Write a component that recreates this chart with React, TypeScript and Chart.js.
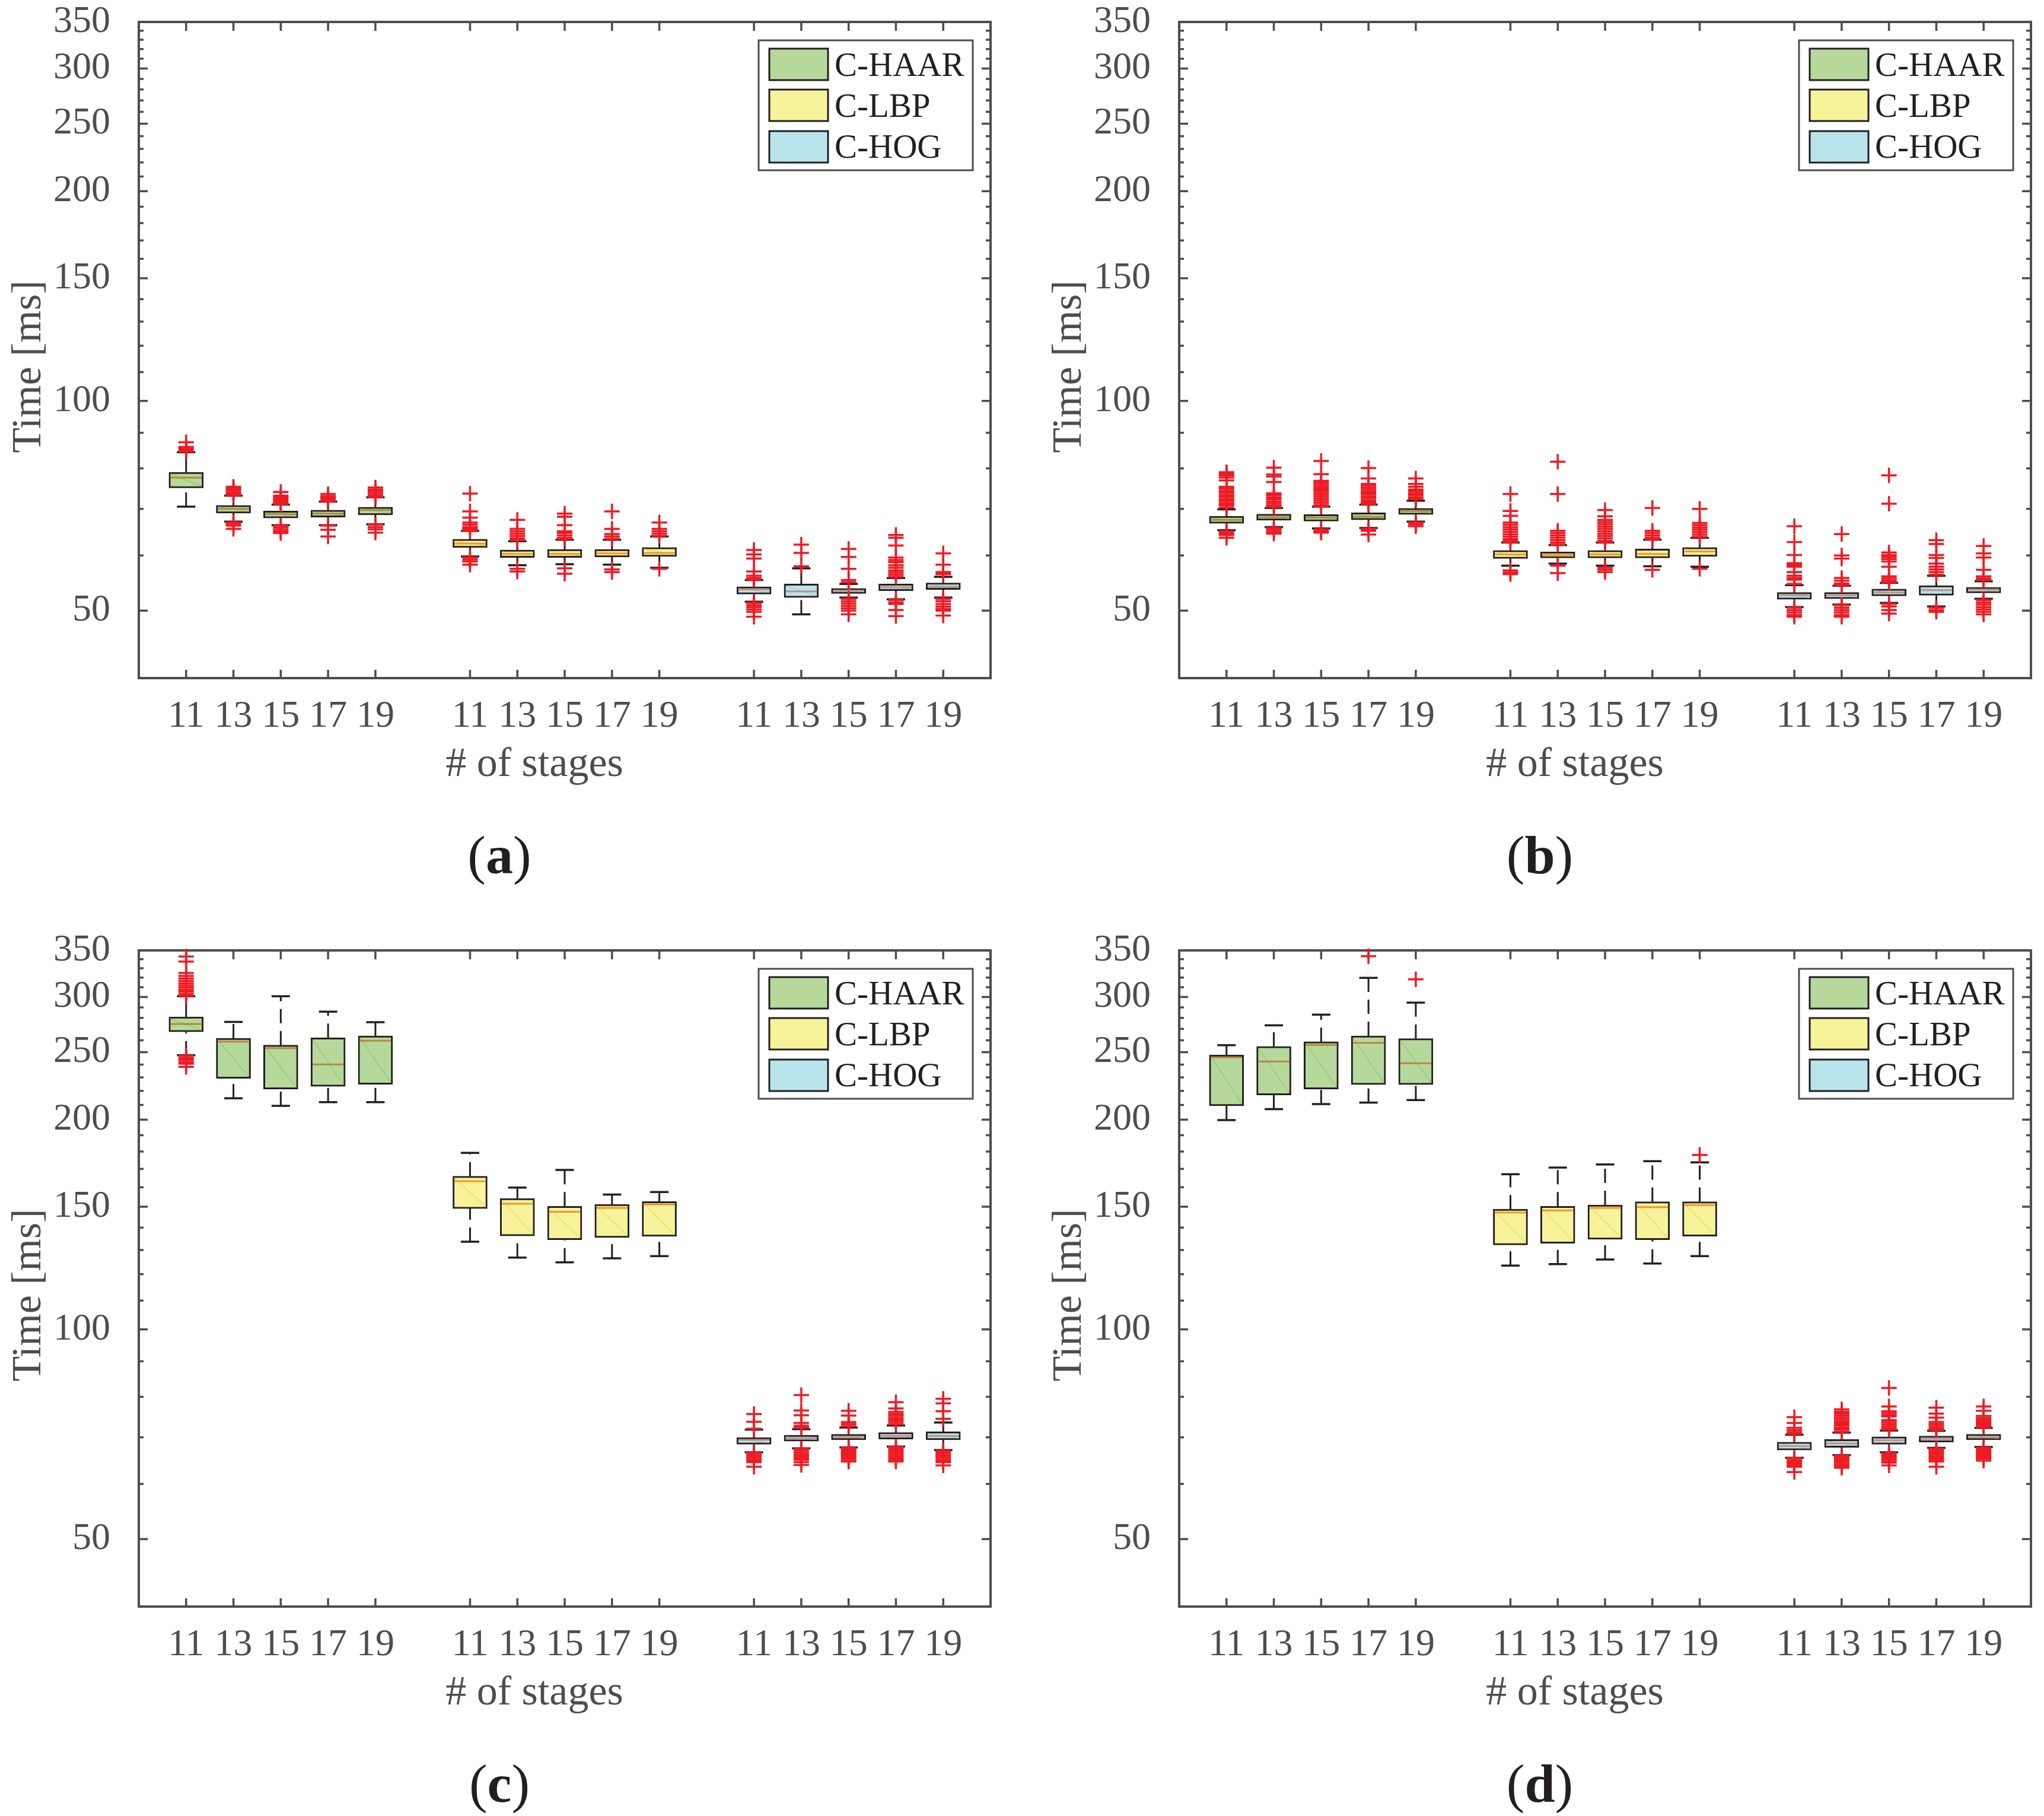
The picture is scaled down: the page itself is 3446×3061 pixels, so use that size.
import React, { useEffect, useRef } from 'react';
import { Chart, registerables } from 'chart.js';

Chart.register(...registerables);

// ---------------- data ----------------
const POSITIONS = [1, 2, 3, 4, 5, 7, 8, 9, 10, 11, 13, 14, 15, 16, 17];
const STAGE_LABELS = ['11', '13', '15', '17', '19'];
const SERIES = ['C-HAAR', 'C-LBP', 'C-HOG'];
const Y_MAJOR = [50, 100, 150, 200, 250, 300, 350];
const Y_MINOR = [60, 70, 80, 90, 110, 120, 130, 140, 160, 170, 180, 190, 210, 220, 230, 240, 260, 270, 280, 290, 310, 320, 330, 340];

// panel (a)
const A_LOW = [70.5, 67.1, 66.3, 66.3, 66.5, 59.8, 58.1, 58.3, 58.2, 57.6, 51.5, 49.4, 52.2, 51.9, 52.2];
const A_Q1 = [75.0, 69.0, 67.9, 68.1, 68.6, 61.6, 59.6, 59.6, 59.7, 59.8, 52.8, 52.2, 52.9, 53.4, 53.6];
const A_MED = [77.6, 70.0, 68.8, 68.9, 69.7, 62.4, 60.3, 60.3, 60.4, 60.5, 53.6, 53.3, 53.4, 54.0, 54.1];
const A_Q3 = [79.0, 70.8, 69.5, 69.7, 70.4, 63.3, 61.1, 61.2, 61.2, 61.6, 54.1, 54.6, 53.8, 54.6, 54.8];
const A_HIGH = [84.4, 73.1, 71.0, 71.7, 72.7, 65.1, 62.9, 63.2, 63.2, 63.9, 55.3, 57.5, 54.6, 55.7, 55.9];
const A_OUT = [
  [87.2, 85.9, 85.4, 84.9, 84.6],
  [75.3, 74.8, 74.4, 73.9, 73.5, 73.2, 66.9, 66.6, 66.2, 65.5],
  [74.0, 73.1, 72.7, 72.3, 71.9, 71.5, 71.1, 66.2, 65.8, 65.3, 64.9, 64.6],
  [73.5, 73.0, 72.6, 72.2, 71.8, 66.2, 65.3, 63.9],
  [75.1, 74.6, 74.1, 73.6, 73.1, 72.8, 66.4, 65.9, 65.4, 64.7],
  [73.6, 69.4, 68.0, 66.9, 66.4, 65.9, 65.5, 65.1, 59.6, 59.2, 58.8, 58.2],
  [67.5, 65.5, 65.0, 64.5, 64.0, 63.5, 63.1, 57.4, 56.9],
  [68.9, 68.2, 66.3, 65.0, 64.6, 64.1, 63.6, 63.4, 57.5, 56.5],
  [69.4, 65.5, 64.4, 63.9, 63.4, 57.3, 56.8],
  [66.9, 65.5, 65.0, 64.5, 64.0, 57.4],
  [61.1, 60.2, 59.4, 56.9, 56.1, 55.7, 55.4, 51.3, 50.9, 50.6, 50.2, 49.8, 49.0],
  [62.2, 60.5, 57.9],
  [61.3, 59.7, 57.4, 55.3, 54.9, 52.0, 51.6, 51.2, 50.8, 50.4, 50.0, 49.4],
  [64.2, 63.6, 62.0, 59.6, 59.1, 58.7, 58.1, 57.6, 57.1, 56.7, 56.3, 55.9, 51.8, 51.4, 51.1, 50.1, 49.1],
  [60.4, 58.2, 56.8, 56.4, 52.0, 51.6, 51.1, 50.7, 50.3, 50.0, 49.2],
];

// panel (b)
const B_LOW = [65.2, 65.9, 65.6, 65.7, 67.1, 58.0, 58.4, 58.0, 57.9, 57.8, 50.6, 51.0, 51.3, 50.7, 52.0];
const B_Q1 = [66.7, 67.4, 67.2, 67.5, 68.7, 59.4, 59.5, 59.5, 59.5, 59.8, 51.9, 52.0, 52.5, 52.6, 53.0];
const B_MED = [67.5, 68.1, 68.0, 68.2, 69.5, 60.2, 60.1, 60.2, 60.3, 60.8, 52.6, 52.6, 53.1, 53.5, 53.6];
const B_Q3 = [68.3, 68.8, 68.7, 69.1, 70.1, 61.0, 60.7, 61.0, 61.3, 61.6, 53.1, 53.1, 53.7, 54.3, 54.0];
const B_HIGH = [69.9, 70.2, 70.5, 71.0, 71.9, 62.6, 62.1, 62.6, 63.2, 63.6, 54.4, 54.3, 54.8, 56.1, 55.1];
const B_OUT = [
  [79.0, 78.6, 78.2, 77.6, 76.9, 75.3, 74.8, 74.3, 73.8, 73.3, 72.8, 72.3, 71.8, 71.3, 70.8, 70.3, 65.0, 64.6, 64.2, 63.6],
  [80.2, 78.4, 77.9, 76.5, 73.7, 73.2, 72.7, 72.2, 71.7, 71.2, 70.7, 70.4, 65.7, 65.3, 64.9, 64.5],
  [82.0, 78.5, 76.8, 76.3, 75.8, 75.3, 74.8, 74.4, 73.9, 73.4, 72.9, 72.4, 71.9, 71.4, 70.9, 70.6, 65.4, 65.0, 64.7],
  [80.1, 77.4, 76.0, 75.5, 75.0, 74.5, 74.0, 73.5, 73.0, 72.5, 72.0, 71.5, 71.1, 65.5, 65.1, 64.3],
  [77.4, 76.0, 75.3, 74.6, 74.2, 73.7, 73.2, 72.7, 72.3, 66.9, 66.5, 66.1],
  [73.5, 69.5, 68.4, 66.9, 66.4, 65.9, 65.4, 64.9, 64.4, 63.9, 63.4, 63.0, 62.7, 57.1, 56.7, 56.4],
  [81.8, 73.5, 65.1, 64.6, 64.1, 63.6, 63.1, 62.6, 62.2, 58.0, 56.6],
  [69.7, 68.3, 67.5, 67.0, 66.5, 66.0, 65.5, 65.0, 64.5, 64.0, 63.5, 63.0, 62.7, 57.6, 57.2, 56.8],
  [70.2, 65.1, 64.6, 64.1, 63.6, 63.3, 57.2],
  [70.0, 66.8, 66.3, 65.8, 65.3, 64.8, 64.3, 63.8, 57.4],
  [66.1, 62.7, 60.1, 58.5, 58.1, 57.8, 56.8, 56.1, 55.7, 55.4, 54.6, 50.5, 50.1, 49.7, 49.3, 49.0],
  [64.4, 60.0, 59.4, 55.7, 55.2, 54.7, 54.4, 50.9, 50.5, 50.1, 49.7, 49.3, 49.0],
  [78.2, 71.2, 60.6, 60.1, 59.7, 59.3, 58.8, 57.8, 56.0, 55.6, 55.2, 54.9, 51.1, 50.7, 50.1, 49.5],
  [63.1, 62.3, 60.1, 59.5, 58.4, 57.8, 57.3, 56.8, 56.3, 50.5, 50.1, 49.8],
  [61.9, 60.4, 59.6, 57.2, 56.0, 55.6, 55.3, 51.8, 51.4, 51.0, 50.6, 50.2, 49.8, 49.4],
];

// panel (c)
const C_LOW = [247.5, 214.7, 209.4, 212.0, 212.0, 133.6, 126.8, 124.8, 126.5, 127.4, 66.6, 67.5, 67.7, 67.9, 67.1];
const C_Q1 = [267.4, 229.3, 221.3, 223.3, 224.8, 149.1, 136.2, 134.5, 135.5, 136.0, 68.4, 69.1, 69.4, 69.6, 69.4];
const C_MED = [274.5, 258.9, 253.4, 240.1, 259.7, 163.2, 151.5, 147.5, 149.4, 151.1, 69.4, 69.8, 70.1, 70.3, 70.3];
const C_Q3 = [281.0, 261.8, 255.9, 262.2, 263.9, 165.9, 154.2, 150.2, 151.2, 152.6, 69.9, 70.5, 70.7, 71.1, 71.3];
const C_HIGH = [300.8, 276.3, 300.8, 285.8, 276.1, 179.2, 159.8, 169.4, 156.2, 157.5, 71.8, 71.9, 72.3, 72.8, 73.5];
const C_OUT = [
  [343.0, 337.4, 324.9, 321.7, 319.0, 316.5, 314.0, 311.8, 309.6, 307.4, 305.2, 303.0, 301.2, 247.0, 245.3, 243.6, 242.0, 240.6, 238.2],
  [], [], [], [],
  [], [], [], [], [],
  [75.6, 73.7, 72.0, 66.5, 66.1, 65.7, 65.3, 64.9, 64.5, 63.5],
  [80.5, 76.5, 75.3, 73.4, 72.7, 72.2, 67.4, 67.0, 66.5, 66.1, 65.7, 65.3, 65.0, 64.5, 63.9],
  [76.4, 75.2, 73.6, 73.1, 72.6, 67.6, 67.2, 66.8, 66.4, 66.0, 65.6, 65.2, 64.8, 64.6],
  [78.6, 77.0, 76.1, 75.6, 75.1, 74.6, 74.1, 73.6, 73.1, 67.8, 67.4, 67.0, 66.6, 66.2, 65.8, 65.4, 65.0, 64.6],
  [79.5, 78.3, 76.3, 74.4, 66.9, 66.5, 66.1, 65.7, 65.3, 64.9, 64.5, 63.8],
];

// panel (d)
const D_LOW = [199.7, 207.1, 210.6, 211.6, 213.4, 123.5, 124.1, 126.0, 124.3, 127.4, 65.4, 66.0, 66.6, 67.6, 67.8];
const D_Q1 = [209.4, 217.0, 221.3, 224.6, 224.6, 132.2, 132.9, 134.7, 134.5, 136.1, 67.1, 67.7, 68.4, 68.9, 69.4];
const D_MED = [245.8, 242.4, 256.1, 257.9, 241.0, 147.2, 148.2, 149.4, 149.8, 150.8, 68.0, 68.6, 69.3, 69.6, 70.0];
const D_Q3 = [247.7, 254.8, 258.8, 263.9, 261.5, 148.8, 150.2, 150.9, 152.5, 152.5, 68.9, 69.5, 70.1, 70.3, 70.7];
const D_HIGH = [255.8, 273.2, 283.1, 319.6, 294.5, 167.0, 170.7, 172.5, 174.4, 173.7, 70.6, 71.1, 71.6, 71.5, 72.2];
const D_OUT = [
  [], [], [], [343.4], [318.1],
  [], [], [], [], [178.0],
  [74.8, 73.4, 72.2, 71.7, 71.2, 70.8, 65.3, 64.9, 64.5, 64.1, 63.8, 63.5, 62.4],
  [76.8, 76.2, 75.7, 75.2, 74.7, 74.2, 73.7, 73.2, 72.8, 72.3, 71.8, 71.3, 65.9, 65.5, 65.1, 64.7, 64.3, 63.9, 63.6, 63.3],
  [82.4, 77.5, 76.3, 75.8, 75.3, 75.0, 74.1, 73.6, 73.1, 72.6, 72.1, 71.8, 66.4, 66.0, 65.6, 65.2, 64.8, 64.4, 63.8],
  [77.2, 75.7, 74.7, 73.6, 73.1, 72.6, 72.1, 71.7, 67.4, 67.0, 66.6, 66.2, 65.8, 65.4, 65.0, 64.6, 63.5],
  [77.5, 76.4, 75.1, 74.6, 74.1, 73.7, 73.3, 72.8, 72.4, 67.6, 67.2, 66.8, 66.4, 66.0, 65.6, 65.2, 64.8],
];

// ---------------- styles ----------------
const FONT = "'Liberation Serif', 'Times New Roman', serif";
const AXIS = '#4d4d4d';
const DARK = '#231f20';
const RED = '#ed1c24';
const FILLS = ['#b6d99b', '#f7f39a', '#b9e4ec'];
const MEDIANS = ['#b5893a', '#f3962b', '#c8907b'];
const DIAGS = ['#8fcc6e', '#efe060', '#96d2dd'];

const PANELS = [
  { key: 'a', left: 0, top: 0, w: 1723, h: 1530, aL: 234, aT: 37, aR: 1670, aB: 1143, cap: [842, 1441],
    low: A_LOW, q1: A_Q1, med: A_MED, q3: A_Q3, high: A_HIGH, out: A_OUT },
  { key: 'b', left: 1723, top: 0, w: 1723, h: 1530, aL: 265, aT: 37, aR: 1701, aB: 1143, cap: [2596, 1441],
    low: B_LOW, q1: B_Q1, med: B_MED, q3: B_Q3, high: B_HIGH, out: B_OUT },
  { key: 'c', left: 0, top: 1530, w: 1723, h: 1531, aL: 234, aT: 72, aR: 1670, aB: 1178, cap: [842, 3006],
    low: C_LOW, q1: C_Q1, med: C_MED, q3: C_Q3, high: C_HIGH, out: C_OUT },
  { key: 'd', left: 1723, top: 1530, w: 1723, h: 1531, aL: 265, aT: 72, aR: 1701, aB: 1178, cap: [2596, 3006],
    low: D_LOW, q1: D_Q1, med: D_MED, q3: D_Q3, high: D_HIGH, out: D_OUT },
];

function decor(p: any) {
  return {
    id: 'decor',
    beforeDatasetsDraw(chart: any) {
      const { ctx, chartArea: a, scales } = chart;
      const x = scales.x;
      const y = scales.y;
      ctx.save();
      ctx.lineCap = 'butt';
      ctx.strokeStyle = AXIS;
      ctx.lineWidth = 3.5;
      ctx.beginPath();
      for (const v of Y_MAJOR) {
        const py = y.getPixelForValue(v);
        ctx.moveTo(a.left, py); ctx.lineTo(a.left + 15, py);
        ctx.moveTo(a.right, py); ctx.lineTo(a.right - 15, py);
      }
      for (const v of Y_MINOR) {
        const py = y.getPixelForValue(v);
        ctx.moveTo(a.left, py); ctx.lineTo(a.left + 8, py);
        ctx.moveTo(a.right, py); ctx.lineTo(a.right - 8, py);
      }
      for (const pos of POSITIONS) {
        const px = x.getPixelForValue(pos);
        ctx.moveTo(px, a.bottom); ctx.lineTo(px, a.bottom - 14);
        ctx.moveTo(px, a.top); ctx.lineTo(px, a.top + 15);
      }
      ctx.stroke();
      ctx.lineWidth = 4;
      ctx.strokeRect(a.left, a.top, a.right - a.left, a.bottom - a.top);

      // whiskers (dashed) and caps
      ctx.strokeStyle = DARK;
      ctx.lineWidth = 3;
      ctx.setLineDash([24, 13]);
      POSITIONS.forEach((pos, i) => {
        const px = x.getPixelForValue(pos);
        ctx.beginPath();
        ctx.moveTo(px, y.getPixelForValue(p.low[i]));
        ctx.lineTo(px, y.getPixelForValue(p.q1[i]));
        ctx.stroke();
        ctx.beginPath();
        ctx.moveTo(px, y.getPixelForValue(p.q3[i]));
        ctx.lineTo(px, y.getPixelForValue(p.high[i]));
        ctx.stroke();
      });
      ctx.setLineDash([]);
      ctx.lineWidth = 3.5;
      ctx.beginPath();
      POSITIONS.forEach((pos, i) => {
        const px = x.getPixelForValue(pos);
        const pl = y.getPixelForValue(p.low[i]);
        const ph = y.getPixelForValue(p.high[i]);
        ctx.moveTo(px - 15.5, pl); ctx.lineTo(px + 15.5, pl);
        ctx.moveTo(px - 15.5, ph); ctx.lineTo(px + 15.5, ph);
      });
      ctx.stroke();
      ctx.restore();
    },
    afterDatasetDraw(chart: any, args: any) {
      const g = args.index;
      if (g > 2) return;
      const { ctx } = chart;
      const y = chart.scales.y;
      ctx.save();
      args.meta.data.forEach((el: any, j: number) => {
        const i = g * 5 + j;
        const l = el.x - el.width / 2 + 3;
        const r = el.x + el.width / 2 - 3;
        const t = Math.min(el.y, el.base) + 3;
        const b = Math.max(el.y, el.base) - 3;
        ctx.strokeStyle = DIAGS[g];
        ctx.lineWidth = 1.5;
        ctx.beginPath(); ctx.moveTo(l, t); ctx.lineTo(r, b); ctx.stroke();
        const pm = y.getPixelForValue(p.med[i]);
        ctx.strokeStyle = MEDIANS[g];
        ctx.lineWidth = 3;
        ctx.beginPath(); ctx.moveTo(l, pm); ctx.lineTo(r, pm); ctx.stroke();
      });
      ctx.restore();
    },
    afterDraw(chart: any) {
      const { ctx, chartArea: a } = chart;
      ctx.save();
      // axis titles
      ctx.fillStyle = AXIS;
      ctx.font = `70px ${FONT}`;
      ctx.textAlign = 'center';
      ctx.textBaseline = 'alphabetic';
      ctx.fillText('# of stages', a.left + 667, a.bottom + 165);
      ctx.save();
      ctx.translate(a.left - 184, a.top + 581);
      ctx.rotate(-Math.PI / 2);
      ctx.textBaseline = 'middle';
      ctx.fillText('Time [ms]', 0, 0);
      ctx.restore();
      // legend
      const lx = a.right - 391;
      const ly = a.top + 31;
      ctx.fillStyle = '#ffffff';
      ctx.fillRect(lx, ly, 361, 219);
      ctx.strokeStyle = AXIS;
      ctx.lineWidth = 3;
      ctx.strokeRect(lx, ly, 361, 219);
      const rowTop = [45, 114, 184];
      const rowBase = [91, 160, 229];
      ctx.font = `57px ${FONT}`;
      ctx.textAlign = 'left';
      SERIES.forEach((s, k) => {
        ctx.fillStyle = FILLS[k];
        ctx.fillRect(a.right - 373, a.top + rowTop[k], 99, 53);
        ctx.strokeStyle = DARK;
        ctx.lineWidth = 3;
        ctx.strokeRect(a.right - 373, a.top + rowTop[k], 99, 53);
        ctx.fillStyle = DARK;
        ctx.fillText(s, a.right - 263, a.top + rowBase[k]);
      });
      ctx.restore();
    },
  };
}

function buildConfig(p: any) {
  const groups = [0, 1, 2].map((g) => ({
    type: 'bar',
    label: SERIES[g],
    data: [0, 1, 2, 3, 4].map((j) => {
      const i = g * 5 + j;
      return { x: POSITIONS[i], y: [p.q1[i], p.q3[i]] };
    }),
    backgroundColor: FILLS[g],
    borderColor: DARK,
    borderWidth: 3,
    borderSkipped: false,
    barThickness: 58,
    grouped: false,
    order: 1,
  }));
  const outPts: any[] = [];
  p.out.forEach((list: number[], i: number) => {
    list.forEach((v) => outPts.push({ x: POSITIONS[i], y: v }));
  });
  const outliers = {
    type: 'scatter',
    label: 'outliers',
    data: outPts,
    pointStyle: 'cross',
    pointRadius: 13,
    pointHoverRadius: 13,
    pointBorderWidth: 3.5,
    pointBorderColor: RED,
    pointBackgroundColor: RED,
    showLine: false,
    clip: false,
    order: 0,
  };
  return {
    type: 'bar',
    data: { datasets: [...groups, outliers] },
    options: {
      responsive: false,
      animation: false,
      devicePixelRatio: 1,
      events: [],
      layout: { padding: { left: 0, top: p.aT, right: p.w - p.aR, bottom: 0 } },
      plugins: { legend: { display: false }, tooltip: { enabled: false } },
      scales: {
        x: {
          type: 'linear',
          min: 0,
          max: 18,
          bounds: 'data',
          offset: false,
          grid: { display: false, drawTicks: false },
          border: { display: false },
          afterBuildTicks: (s: any) => { s.ticks = POSITIONS.map((v) => ({ value: v })); },
          afterFit: (s: any) => {
            s.height = p.h - p.aB;
            s.paddingLeft = 0;
            s.paddingRight = 0;
            s.paddingTop = 0;
            s.paddingBottom = 0;
          },
          ticks: {
            autoSkip: false,
            maxRotation: 0,
            minRotation: 0,
            padding: 33,
            color: AXIS,
            font: { family: FONT, size: 64, lineHeight: 1 },
            callback: (v: number) => {
              const i = POSITIONS.indexOf(v);
              return i < 0 ? '' : STAGE_LABELS[i % 5];
            },
          },
        },
        y: {
          type: 'logarithmic',
          min: 40,
          max: 350,
          bounds: 'data',
          grid: { display: false, drawTicks: false },
          border: { display: false },
          afterBuildTicks: (s: any) => { s.ticks = Y_MAJOR.map((v) => ({ value: v })); },
          afterFit: (s: any) => {
            s.width = p.aL;
            s.paddingTop = 0;
            s.paddingBottom = 0;
            s.paddingLeft = 0;
            s.paddingRight = 0;
          },
          ticks: {
            padding: 48,
            color: AXIS,
            font: { family: FONT, size: 64, lineHeight: 1 },
            callback: (v: number) => String(v),
          },
        },
      },
    },
    plugins: [decor(p)],
  };
}

function Panel({ p }: { p: any }) {
  const ref = useRef<HTMLCanvasElement | null>(null);
  useEffect(() => {
    const chart = new Chart(ref.current as any, buildConfig(p) as any);
    return () => chart.destroy();
  }, []);
  return (
    <canvas
      ref={ref}
      width={p.w}
      height={p.h}
      style={{ position: 'absolute', left: p.left, top: p.top, width: p.w, height: p.h, display: 'block' }}
    />
  );
}

export default function App() {
  return (
    <div style={{ position: 'absolute', left: 0, top: 0, width: 3446, height: 3061, background: '#ffffff', overflow: 'hidden' }}>
      {PANELS.map((p) => (
        <Panel key={p.key} p={p} />
      ))}
      {PANELS.map((p) => (
        <div
          key={'cap' + p.key}
          style={{
            position: 'absolute',
            left: p.cap[0],
            top: p.cap[1],
            transform: 'translate(-50%, -50%)',
            fontFamily: FONT,
            fontSize: 92,
            lineHeight: 1,
            color: DARK,
            whiteSpace: 'nowrap',
          }}
        >
          (<b>{p.key}</b>)
        </div>
      ))}
    </div>
  );
}
